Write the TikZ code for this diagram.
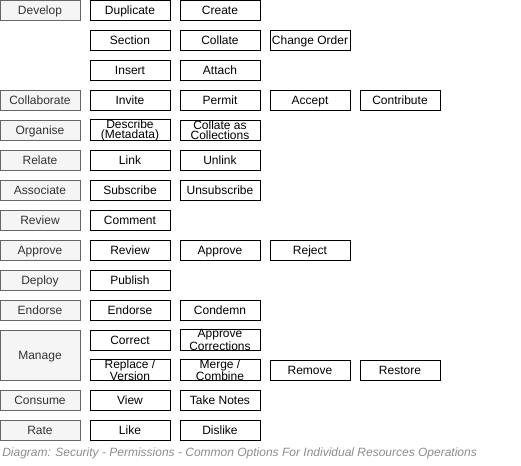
\documentclass[tikz,border=0pt]{standalone}
\usepackage{fontspec}
\setmainfont{Liberation Sans}
\definecolor{catfill}{HTML}{F5F5F5}
\definecolor{catline}{HTML}{666666}
\definecolor{cattext}{HTML}{333333}
\definecolor{captext}{HTML}{8C8C8C}
\tikzset{
  opbase/.style={draw=black, fill=white, line width=0.75pt, minimum width=60pt, minimum height=15pt, inner sep=0pt, align=center, font=\fontsize{9pt}{7.5pt}\selectfont, text=black},
  opbox/.style={opbase, text height=8.5pt, text depth=1.7pt},
  optwo/.style={opbase},
  catbox/.style={opbox, draw=catline, fill=catfill, text=cattext},
}
\begin{document}
\begin{tikzpicture}[x=0.75pt,y=-0.75pt]
\useasboundingbox (0,0) rectangle (521,465);
% categories
\node[catbox] (cDevelop) at (40,10) {Develop};
\node[catbox] (cCollab) at (40,100) {Collaborate};
\node[catbox] (cOrganise) at (40,130) {Organise};
\node[catbox] (cRelate) at (40,160) {Relate};
\node[catbox] (cAssociate) at (40,190) {Associate};
\node[catbox] (cReview) at (40,220) {Review};
\node[catbox] (cApprove) at (40,250) {Approve};
\node[catbox] (cDeploy) at (40,280) {Deploy};
\node[catbox] (cEndorse) at (40,310) {Endorse};
\node[catbox, minimum height=37.5pt] (cManage) at (40,355) {Manage};
\node[catbox] (cConsume) at (40,400) {Consume};
\node[catbox] (cRate) at (40,430) {Rate};
% operations
\node[opbox] (oDuplicate) at (130,10) {Duplicate};
\node[opbox] (oCreate) at (220,10) {Create};
\node[opbox] (oSection) at (130,40) {Section};
\node[opbox] (oCollate) at (220,40) {Collate};
\node[opbox] (oChange) at (310,40) {Change Order};
\node[opbox] (oInsert) at (130,70) {Insert};
\node[opbox] (oAttach) at (220,70) {Attach};
\node[opbox] (oInvite) at (130,100) {Invite};
\node[opbox] (oPermit) at (220,100) {Permit};
\node[opbox] (oAccept) at (310,100) {Accept};
\node[opbox] (oContribute) at (400,100) {Contribute};
\node[optwo] (oDescribe) at (130,130) {Describe\\(Metadata)};
\node[optwo] (oCollColl) at (220,130) {Collate as\\Collections};
\node[opbox] (oLink) at (130,160) {Link};
\node[opbox] (oUnlink) at (220,160) {Unlink};
\node[opbox] (oSubscribe) at (130,190) {Subscribe};
\node[opbox] (oUnsubscribe) at (220,190) {Unsubscribe};
\node[opbox] (oComment) at (130,220) {Comment};
\node[opbox] (oReview) at (130,250) {Review};
\node[opbox] (oApprove) at (220,250) {Approve};
\node[opbox] (oReject) at (310,250) {Reject};
\node[opbox] (oPublish) at (130,280) {Publish};
\node[opbox] (oEndorse) at (130,310) {Endorse};
\node[opbox] (oCondemn) at (220,310) {Condemn};
\node[opbox] (oCorrect) at (130,340) {Correct};
\node[optwo] (oApproveCorr) at (220,340) {Approve\\Corrections};
\node[optwo] (oReplace) at (130,370) {Replace /\\Version};
\node[optwo] (oMerge) at (220,370) {Merge /\\Combine};
\node[opbox] (oRemove) at (310,370) {Remove};
\node[opbox] (oRestore) at (400,370) {Restore};
\node[opbox] (oView) at (130,400) {View};
\node[opbox] (oNotes) at (220,400) {Take Notes};
\node[opbox] (oLike) at (130,430) {Like};
\node[opbox] (oDislike) at (220,430) {Dislike};
% caption
\node[anchor=west, inner sep=0pt, text=captext, font=\fontsize{9pt}{10pt}\selectfont\itshape] (caption) at (2,453) {Diagram: Security - Permissions - Common Options For Individual Resources Operations};
\end{tikzpicture}
\end{document}
